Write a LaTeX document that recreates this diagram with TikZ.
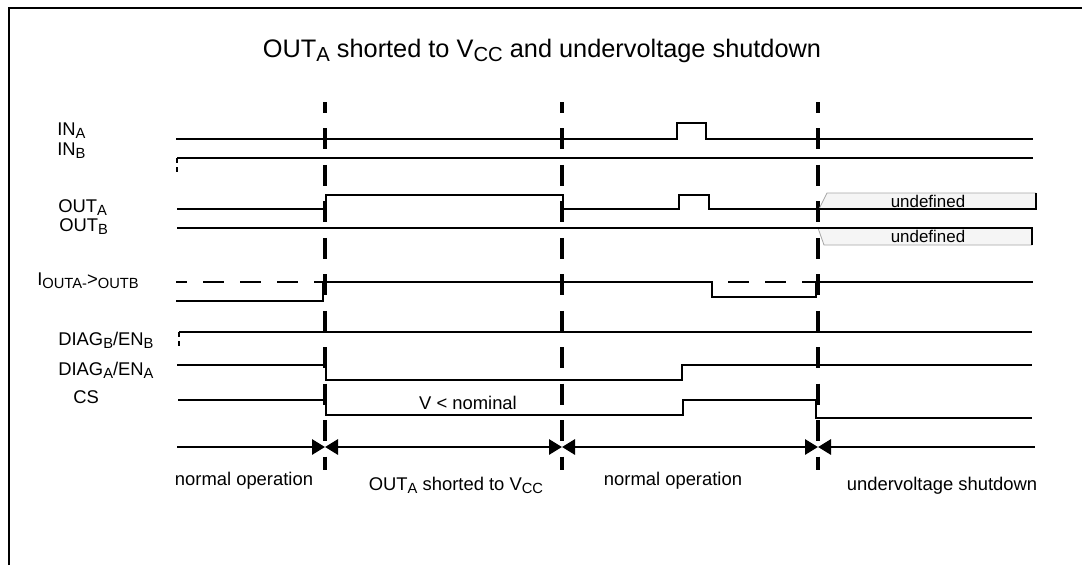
\documentclass[tikz,border=0pt]{standalone}
\usepackage{fontspec}
\setmainfont{Liberation Sans}
\usetikzlibrary{arrows.meta}
\makeatletter
\newcommand\sbs[1]{\raisebox{-0.33ex}{\fontsize{\strip@pt\dimexpr0.8\dimexpr\f@size pt\relax\relax}{0}\selectfont #1}}
\makeatother

\begin{document}
\begin{tikzpicture}[x=0.75pt, y=-0.75pt,
    every node/.style={inner sep=0pt, font=\fontsize{13.8}{16}\selectfont},
    lbl/.style={anchor=base west},
    txt/.style={anchor=base},
    sig/.style={line width=0.9pt},
    stub/.style={line width=0.9pt, dash pattern=on 3.75pt off 3pt},
    gapline/.style={line width=0.9pt, dash pattern=on 15.75pt off 12pt},
    bound/.style={line width=2.4pt, dash pattern=on 15.75pt off 11.6pt, dash phase=7.5pt},
    timeline/.style={line width=2.2pt},
    undef/.style={fill=gray!8},
    >={Triangle[length=9.75pt, width=11.25pt]}]
  \useasboundingbox (0,0) rectangle (1082,565);

  % Frame
  \draw[line width=1.5pt] (9,565) -- (9,8) -- (1082,8);
  \node[txt, font=\fontsize{19}{22}\selectfont] (title) at (542,57)
    {OUT\sbs{A} shorted to V\sbs{CC} and undervoltage shutdown};

  % Phase boundaries
  \foreach \x/\n in {325/b1, 562/b2, 818/b3} {
    \draw[bound] (\x,102) -- (\x,470);
    \coordinate (\n) at (\x,447);
  }
  \coordinate (t0) at (177,447);
  \coordinate (t4) at (1035,447);

  % Signal names
  \node[lbl] (inA) at (57,135) {IN\sbs{A}};
  \node[lbl] (inB) at (57,155) {IN\sbs{B}};
  \node[lbl] (outA) at (58,212) {OUT\sbs{A}};
  \node[lbl] (outB) at (59,231) {OUT\sbs{B}};
  \node[lbl] (iAB) at (37,285) {I\sbs{OUTA-}>\sbs{OUTB}};
  \node[lbl] (diagB) at (58,345) {DIAG\sbs{B}/EN\sbs{B}};
  \node[lbl] (diagA) at (58,375) {DIAG\sbs{A}/EN\sbs{A}};
  \node[lbl] (cs) at (73,403) {CS};

  % IN_A, IN_B
  \draw[sig] (176,139) -- (677,139) -- (677,123) -- (706,123) -- (706,139) -- (1033,139);
  \draw[sig] (177,158) -- (1033,158);
  \draw[stub] (177,158) -- (177,175);

  % OUT_A, OUT_B with undefined zones
  \fill[undef] (819,209) -- (827,193) -- (1036,193) -- (1036,209) -- cycle;
  \draw[gray!70, line width=0.6pt] (819,209) -- (827,193) -- (1036,193);
  \draw[sig] (177,209) -- (326,209) -- (326,195) -- (563,195) -- (563,209) -- (679,209)
    -- (679,195) -- (709,195) -- (709,209) -- (1036,209) -- (1036,193);
  \fill[undef] (818,228) -- (824,245) -- (1032,245) -- (1032,228) -- cycle;
  \draw[gray!70, line width=0.6pt] (818,228) -- (824,245) -- (1032,245);
  \draw[sig] (177,228) -- (1032,228) -- (1032,245);
  \node[txt, font=\fontsize{12.7}{15}\selectfont] (undefA) at (928,207) {undefined};
  \node[txt, font=\fontsize{12.7}{15}\selectfont] (undefB) at (928,242) {undefined};

  % I_OUTA->OUTB
  \draw[gapline, dash phase=7.5pt] (176,282) -- (323,282);
  \draw[gapline, dash phase=15.75pt] (712,282) -- (816,282);
  \draw[sig] (176,301) -- (323,301) -- (323,282) -- (712,282) -- (712,297) -- (816,297)
    -- (816,282) -- (1033,282);

  % DIAG_B/EN_B, DIAG_A/EN_A, CS
  \draw[sig] (179,332) -- (1032,332);
  \draw[stub] (179,332) -- (179,347);
  \draw[sig] (177,365) -- (326,365) -- (326,380) -- (682,380) -- (682,365) -- (1032,365);
  \draw[sig] (178,400) -- (326,400) -- (326,415) -- (683,415) -- (683,400) -- (816,400)
    -- (816,418) -- (1032,418);
  \node[txt] (vnom) at (468,409) {V < nominal};

  % Time line
  \draw[timeline, ->] (t0) -- (b1);
  \draw[timeline, <->] (b1) -- (b2);
  \draw[timeline, <->] (b2) -- (b3);
  \draw[timeline, <-] (b3) -- (t4);

  % Phase names
  \node[txt] (ph1) at (244,485) {normal operation};
  \node[txt] (ph2) at (456,490) {OUT\sbs{A} shorted to V\sbs{CC}};
  \node[txt] (ph3) at (673,485) {normal operation};
  \node[txt] (ph4) at (942,490) {undervoltage shutdown};
\end{tikzpicture}
\end{document}
